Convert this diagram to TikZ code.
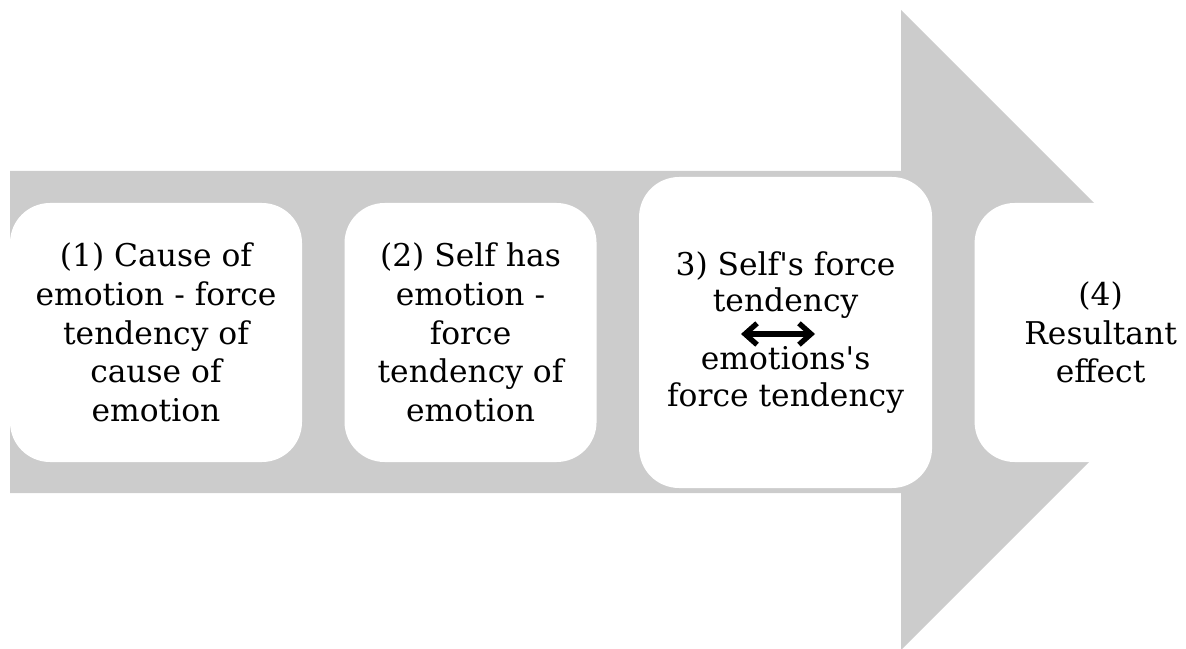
\documentclass[tikz,border=0pt]{standalone}
\usepackage{fontspec}
\setmainfont{DejaVu Serif}
\usepackage{tikz}
\usetikzlibrary{positioning,arrows.meta}
\definecolor{flowgray}{RGB}{204,204,204}
\tikzstyle{stage} = [rectangle, rounded corners=30pt, fill=white, inner sep=0pt, align=center, minimum width=189pt, minimum height=194.25pt, font=\fontsize{23.5pt}{29pt}\selectfont]
\tikzstyle{bigstage} = [stage, minimum width=219.75pt, minimum height=233.25pt, font=\fontsize{23.5pt}{27.5pt}\selectfont]

\begin{document}
\begin{tikzpicture}[x=0.75pt,y=-0.75pt,node distance=31.5pt]
  \clip (0,0) rectangle (1186,649);
  \fill[flowgray] (10,171) -- (901,171) -- (901,10) -- (1221,330) -- (901,650) -- (901,493) -- (10,493) -- cycle;

  \node[stage, minimum width=219pt] (S1) at (156,332.5) {(1) Cause of\\ emotion - force\\ tendency of\\ cause of\\ emotion};
  \node[stage] (S2) [right=of S1] {(2) Self has\\ emotion -\\ force\\ tendency of\\ emotion};
  \node[bigstage] (S3) [right=of S2] {3) Self\textquotesingle s force\\ tendency\\[16pt] emotions\textquotesingle s\\ force tendency};
  \node[stage] (S4) [right=of S3] {(4)\\ Resultant\\ effect};

  \coordinate (L) at (741,334);
  \coordinate (R) at (815,334);
  \draw[{Straight Barb[length=9pt,width=16pt]}-{Straight Barb[length=9pt,width=16pt]}, line width=4pt, line cap=round] (L) -- (R);
\end{tikzpicture}
\end{document}
